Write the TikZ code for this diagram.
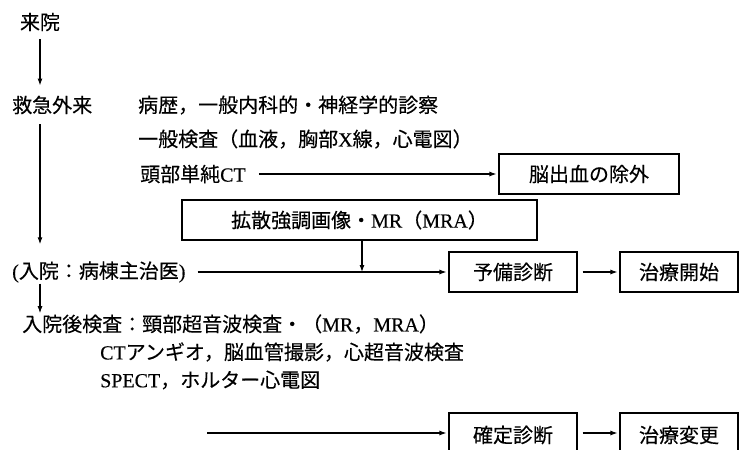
\documentclass[tikz,border=0pt]{standalone}
\usepackage{fontspec}
\setmainfont{Liberation Serif}
\newfontfamily\jp[FakeBold=0.3]{Noto Sans CJK JP}
\newfontfamily\latf[FakeBold=0.4]{Liberation Serif}
\usetikzlibrary{arrows.meta}
\newcommand\lat[1]{{\latf #1}}
\begin{document}
\begin{tikzpicture}[x=1pt,y=-1pt,
  txt/.style={inner sep=0pt,font=\jp\fontsize{20}{24}\selectfont},
  lefttxt/.style={txt,anchor=west},
  box/.style={txt,draw,line width=1.1pt,minimum height=40pt},
  arr/.style={line width=1.1pt,-{Latex[length=7pt,width=5pt]}},
  ln/.style={line width=1.1pt}]
\useasboundingbox (0,0) rectangle (740,450);
\clip (0,0) rectangle (740,450);
% texts
\node[txt] (raiin) at (40,22) {来院};
\node[lefttxt] (kyukyu) at (12,105) {救急外来};
\node[lefttxt] (byoreki) at (138,105) {病歴，一般内科的・神経学的診察};
\node[lefttxt] (ippan) at (138,139) {一般検査（血液，胸部\lat{X}線，心電図）};
\node[lefttxt] (tobu) at (140,174) {頭部単純\lat{CT}};
\node[box,minimum width=180pt] (noshukketsu) at (589,174) {脳出血の除外};
\node[box,minimum width=355pt] (kakusan) at (359.5,220) {拡散強調画像・\lat{MR}（\lat{MRA}）};
\node[lefttxt] (nyuin) at (12,272) {\lat{(}入院：病棟主治医\lat{)}};
\node[box,minimum width=128pt] (yobi) at (513,272) {予備診断};
\node[box,minimum width=118pt] (kaishi) at (679,272) {治療開始};
\node[lefttxt] (kensa) at (22,324) {入院後検査：頸部超音波検査・（\lat{MR}，\lat{MRA}）};
\node[lefttxt] (cta) at (100,352) {\lat{CT}アンギオ，脳血管撮影，心超音波検査};
\node[lefttxt] (spect) at (100,380) {\lat{SPECT}，ホルター心電図};
\node[box,minimum width=128pt,minimum height=44pt] (kakutei) at (513,435) {確定診断};
\node[box,minimum width=118pt,minimum height=44pt] (henko) at (679,435) {治療変更};
% coordinates
\coordinate (j1) at (362,272);
\coordinate (s1) at (207,433);
% connectors
\draw[arr,shorten <=8pt,shorten >=10pt] (raiin.south) -- (raiin.south |- kyukyu.north);
\draw[arr,shorten <=10pt,shorten >=17pt] (raiin.south |- kyukyu.south) -- (raiin.south |- nyuin.north);
\draw[arr,shorten <=1pt,shorten >=1pt] (raiin.south |- nyuin.south) -- (raiin.south |- kensa.north);
\draw[arr,shorten <=13pt,shorten >=2pt] (tobu.east) -- (tobu.east -| noshukketsu.west);
\draw[arr] (kakusan.south -| j1) -- (j1);
\draw[arr,shorten >=2pt] (nyuin.east |- yobi.west) ++(12,0) -- (yobi.west);
\draw[arr,shorten <=5pt,shorten >=2pt] (yobi.east) -- (kaishi.west);
\draw[arr,shorten >=2pt] (s1) -- (s1 -| kakutei.west);
\draw[arr,shorten <=5pt,shorten >=2pt] (kakutei.east |- s1) -- (henko.west |- s1);
\end{tikzpicture}
\end{document}
